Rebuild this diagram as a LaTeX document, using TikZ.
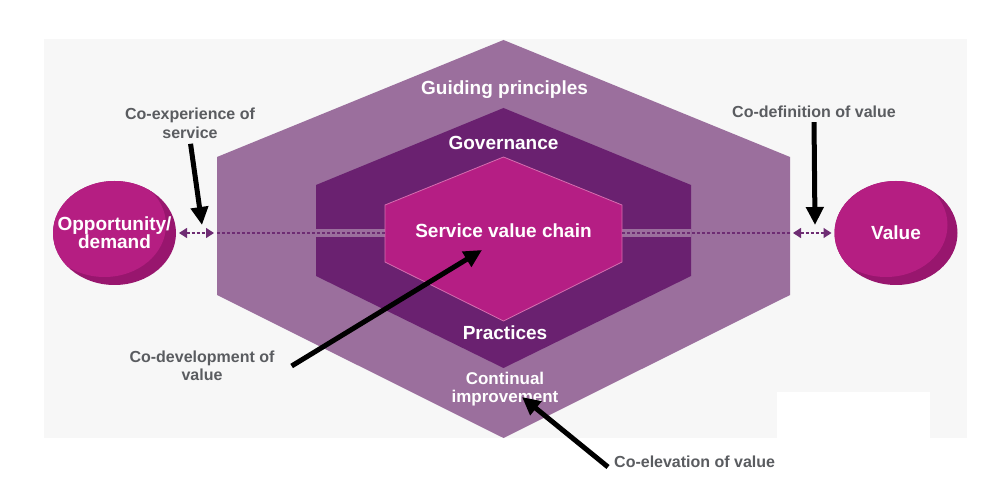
\documentclass[tikz,border=0pt]{standalone}
\usepackage{fontspec}
\setmainfont{Liberation Sans}
\usepackage{tikz}
\usetikzlibrary{arrows.meta,positioning,shapes.geometric}
\usepackage{xcolor}
\definecolor{outerhex}{RGB}{155,111,157}
\definecolor{midhex}{RGB}{106,33,112}
\definecolor{innerhex}{RGB}{181,30,132}
\definecolor{innerrim}{RGB}{214,110,176}
\definecolor{bubblemain}{RGB}{181,30,130}
\definecolor{bubbledark}{RGB}{152,22,110}
\definecolor{notegray}{RGB}{90,92,96}
\definecolor{linkpurple}{RGB}{110,44,115}
\definecolor{bggray}{RGB}{247,247,247}

\begin{document}
\begin{tikzpicture}[x=1pt, y=-1pt,
  hexlabel/.style={text=white, font=\fontsize{19}{19}\selectfont\bfseries,
                   align=center, inner sep=0pt},
  bubble/.style={ellipse, fill=bubbledark, minimum width=123pt, minimum height=104pt,
                 inner sep=0pt, outer sep=0pt, text=white, align=center,
                 font=\fontsize{19}{18}\selectfont\bfseries,
                 path picture={\fill[bubblemain]
                   ([xshift=-10pt,yshift=8pt]path picture bounding box.center)
                   ellipse [x radius=61.5pt, y radius=52pt];}},
  note/.style={text=notegray, font=\fontsize{16}{18.5}\selectfont\bfseries,
               align=center, inner sep=1pt},
  bigarrow/.style={-{Triangle[length=18pt,width=17pt]}, line width=5pt, black},
  pairarrow/.style={{Triangle[length=8pt,width=10pt]}-{Triangle[length=8pt,width=10pt]},
                    linkpurple, line width=1.2pt, dash pattern=on 3pt off 2pt},
  dashline/.style={linkpurple, line width=1.2pt, dash pattern=on 3pt off 2pt}
]
\useasboundingbox (0,0) rectangle (988,486);

%% Backdrop
\fill[bggray] (44,39) rectangle (967,438);
\fill[white] (777,392) rectangle (930,438);

%% Nested hexagons
\fill[outerhex] (503.5,40) -- (790,157) -- (790,295) -- (503.5,438)
  -- (217,295) -- (217,157) -- cycle;
\fill[midhex] (503.5,108) -- (691,185) -- (691,276) -- (503.5,368)
  -- (316,276) -- (316,185) -- cycle;
\fill[outerhex] (316,229) rectangle (691,237);
\filldraw[fill=innerhex, draw=innerrim, line width=0.8pt]
  (503.5,157) -- (622,205) -- (622,262) -- (503.5,321)
  -- (385,262) -- (385,205) -- cycle;

\coordinate (outW) at (217,233);
\coordinate (outE) at (790,233);
\coordinate (svcW) at (385,233);
\coordinate (svcE) at (622,233);

%% Layer labels
\node[hexlabel] (guiding)  at (504.5,90)  {Guiding principles};
\node[hexlabel] (govern)   at (503.5,143) {Governance};
\node[hexlabel] (svc)      at (503.5,231) {Service value chain};
\node[hexlabel] (practice) at (505,333)   {Practices};
\node[hexlabel, font=\fontsize{17}{17.5}\selectfont\bfseries]
     (improve) at (505,389) {Continual\\improvement};

%% Demand and value
\node[bubble, inner xsep=-16pt] (opp) at (114.5,233) {Opportunity/\\demand};
\node[bubble] (val) at (896,233) {Value};

\draw[pairarrow] ([xshift=3pt]opp.east) -- ([xshift=-3pt]outW);
\draw[dashline]  (outW) -- (svcW);
\draw[dashline]  (svcE) -- (outE);
\draw[pairarrow] ([xshift=3pt]outE) -- ([xshift=-3pt]val.west);

%% Co-creation notes
\node[note] (coexp)  at (190,123.5) {Co-experience of\\service};
\node[note] (codef)  at (814,112)   {Co-definition of value};
\node[note] (codev)  at (202,366)   {Co-development of\\value};
\node[note, anchor=west] (coelev) at (613,462) {Co-elevation of value};

\coordinate (expTip) at (202,225);
\coordinate (defTip) at (815,225);
\coordinate (devTip) at (482,250);
\coordinate (eleTip) at (522,397);
\coordinate (devTail) at ([xshift=16pt]codev.east);
\coordinate (eleTail) at ([xshift=-5pt,yshift=-5pt]coelev.west);

\draw[bigarrow, shorten <=4pt] (coexp.south) -- (expTip);
\draw[bigarrow, shorten <=3pt] (codef.south) -- (defTip);
\draw[bigarrow] (devTail) -- (devTip);
\draw[bigarrow] (eleTail) -- (eleTip);

\end{tikzpicture}
\end{document}
